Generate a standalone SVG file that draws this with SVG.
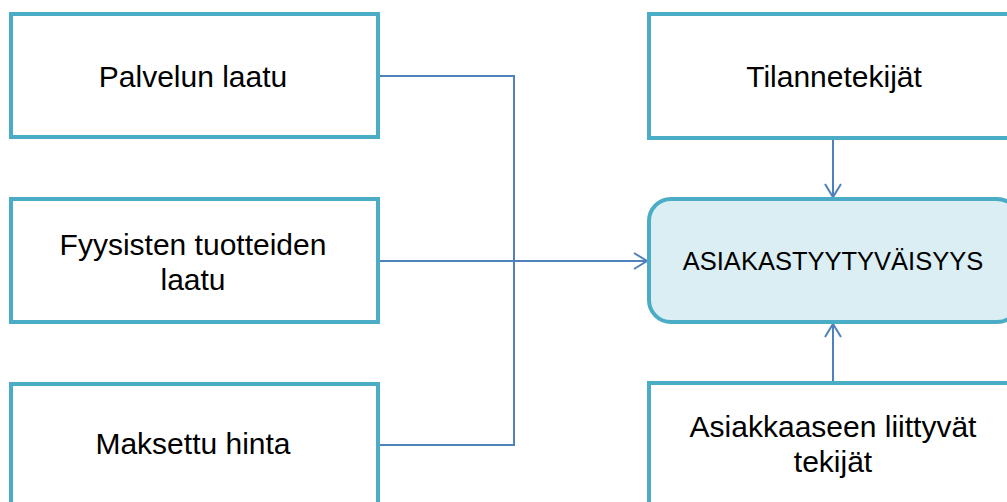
<svg xmlns="http://www.w3.org/2000/svg" width="1007" height="502" viewBox="0 0 1007 502">
<defs>
<marker id="arr" markerWidth="16" markerHeight="20" refX="14" refY="10" orient="auto" markerUnits="userSpaceOnUse">
<path d="M1,2 L14,10 L1,18" fill="none" stroke="#4F81BD" stroke-width="2"/>
</marker>
<style>
.box{fill:#FFFFFF;stroke:#4BACC6;stroke-width:4}
.main{fill:#DAEEF3;stroke:#4BACC6;stroke-width:4}
.t{font-family:"Liberation Sans",Arial,sans-serif;font-size:30px;fill:#000;text-anchor:middle}
.ts{font-family:"Liberation Sans",Arial,sans-serif;font-size:25.5px;fill:#000;text-anchor:middle}
.c{fill:none;stroke:#4F81BD;stroke-width:2}
</style>
</defs>
<rect width="1007" height="502" fill="#FFFFFF"/>
<g id="connectors">
<polyline class="c" points="378,76 514,76 514,445 378,445"/>
<line class="c" x1="378" y1="261" x2="647" y2="261" marker-end="url(#arr)"/>
<line class="c" x1="833" y1="138" x2="833" y2="197" marker-end="url(#arr)"/>
<line class="c" x1="833" y1="383" x2="833" y2="324" marker-end="url(#arr)"/>
</g>
<g id="palvelun">
<rect class="box" x="11" y="14" width="367" height="123"/>
<text class="t" x="193" y="87">Palvelun laatu</text>
</g>
<g id="fyysisten">
<rect class="box" x="11" y="199" width="367" height="123"/>
<text class="t" x="193" y="255">Fyysisten tuotteiden</text>
<text class="t" x="193" y="290">laatu</text>
</g>
<g id="maksettu">
<rect class="box" x="11" y="384" width="367" height="124"/>
<text class="t" x="193" y="454">Maksettu hinta</text>
</g>
<g id="tilanne">
<rect class="box" x="649" y="14" width="370" height="124"/>
<text class="t" x="834" y="87">Tilannetekijät</text>
</g>
<g id="asiakastyytyvaisyys">
<rect class="main" x="649" y="199" width="370" height="123" rx="22" ry="22"/>
<text class="ts" x="833" y="270">ASIAKASTYYTYVÄISYYS</text>
</g>
<g id="asiakkaaseen">
<rect class="box" x="649" y="383" width="370" height="125"/>
<text class="t" x="833" y="437">Asiakkaaseen liittyvät</text>
<text class="t" x="833" y="472">tekijät</text>
</g>
</svg>
